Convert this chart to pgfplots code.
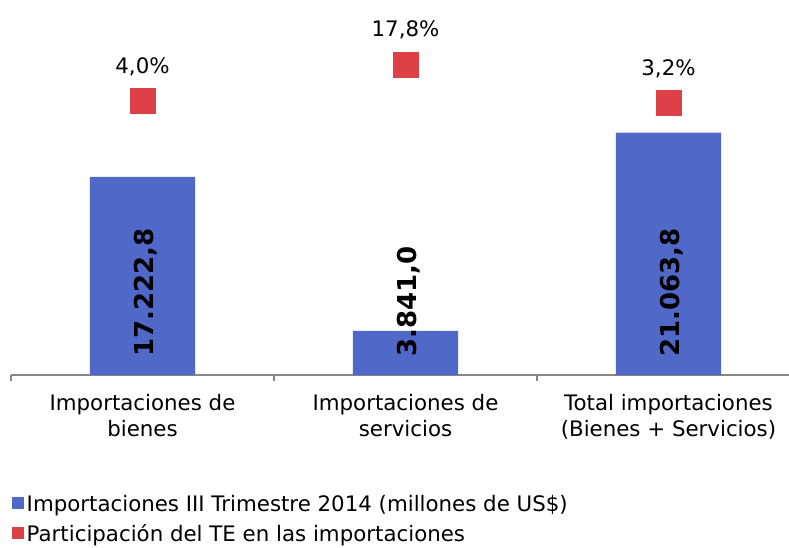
\documentclass[border=0pt]{standalone}
\usepackage{fontspec}
\setmainfont{DejaVu Sans}
\usepackage{pgfplots}
\pgfplotsset{compat=1.18}
\definecolor{barblue}{RGB}{80,104,200}
\definecolor{sqred}{RGB}{221,64,71}
\definecolor{axgray}{RGB}{134,134,134}
\begin{document}
\begin{tikzpicture}
\useasboundingbox (0pt,0pt) rectangle (591.75pt,410.25pt);
\begin{axis}[
  at={(8.25pt,129pt)}, anchor=south west,
  scale only axis, width=591.75pt, height=266.25pt,
  xmin=-0.5, xmax=2.5, ymin=0, ymax=30862,
  axis x line*=bottom, axis y line=none,
  axis line style={axgray, line width=1.1pt},
  xtick={0,1,2},
  xticklabels={{Importaciones de\\bienes},{Importaciones de\\servicios},{Total importaciones\\(Bienes + Servicios)}},
  major tick length=0pt,
  minor xtick={-0.5,0.5,1.5,2.5},
  minor tick length=4.5pt, tick align=outside,
  minor x tick style={axgray, line width=1pt},
  xticklabel style={align=center, font=\fontsize{16}{19.4}\selectfont, inner sep=0pt, yshift=-14.1pt, text=black},
  clip=false,
]
\addplot[ybar, bar width=0.4, fill=barblue, draw=none] coordinates {(0,17222.8) (1,3841.0) (2,21063.8)};
\addplot[draw=none, nodes near coords, point meta=explicit symbolic,
  every node near coord/.append style={font=\fontsize{19.5}{20}\selectfont\bfseries, text=black, inner sep=0pt, xshift=7.9pt, yshift=13.5pt, rotate=90, anchor=base west}]
  coordinates {(0,0) [17.222,8] (1,0) [3.841,0] (2,0) [21.063,8]};
\end{axis}
\begin{axis}[
  at={(8.25pt,129pt)}, anchor=south west,
  scale only axis, width=591.75pt, height=266.25pt,
  xmin=-0.5, xmax=2.5, ymin=-100.38, ymax=34.60,
  hide axis, clip=false,
  legend style={at={(0.0009,-0.3394)}, anchor=north west, draw=none, fill=none,
    inner sep=0pt, outer sep=0pt, row sep=8.3pt, column sep=2.6pt,
    font=\fontsize{16}{19.2}\selectfont, nodes={inner sep=0pt}},
  legend cell align=left,
]
\addlegendimage{legend image code/.code={\fill[barblue] (0pt,-3.0pt) rectangle (8.25pt,5.25pt);}}
\addlegendentry{Importaciones III Trimestre 2014 (millones de US\$)}
\addplot[only marks, mark=square*, mark size=9.3pt, mark options={fill=sqred, draw=sqred, line width=0.1pt},
  legend image code/.code={\fill[sqred] (0pt,-3.0pt) rectangle (8.25pt,5.25pt);},
  nodes near coords, point meta=explicit symbolic,
  every node near coord/.append style={font=\fontsize{16}{19.2}\selectfont, text=black, anchor=base, yshift=20.6pt}]
  coordinates {(0,4.0) [4,0\%] (1,17.8) [17,8\%] (2,3.2) [3,2\%]};
\addlegendentry{Participación del TE en las importaciones}
\end{axis}
\end{tikzpicture}
\end{document}
